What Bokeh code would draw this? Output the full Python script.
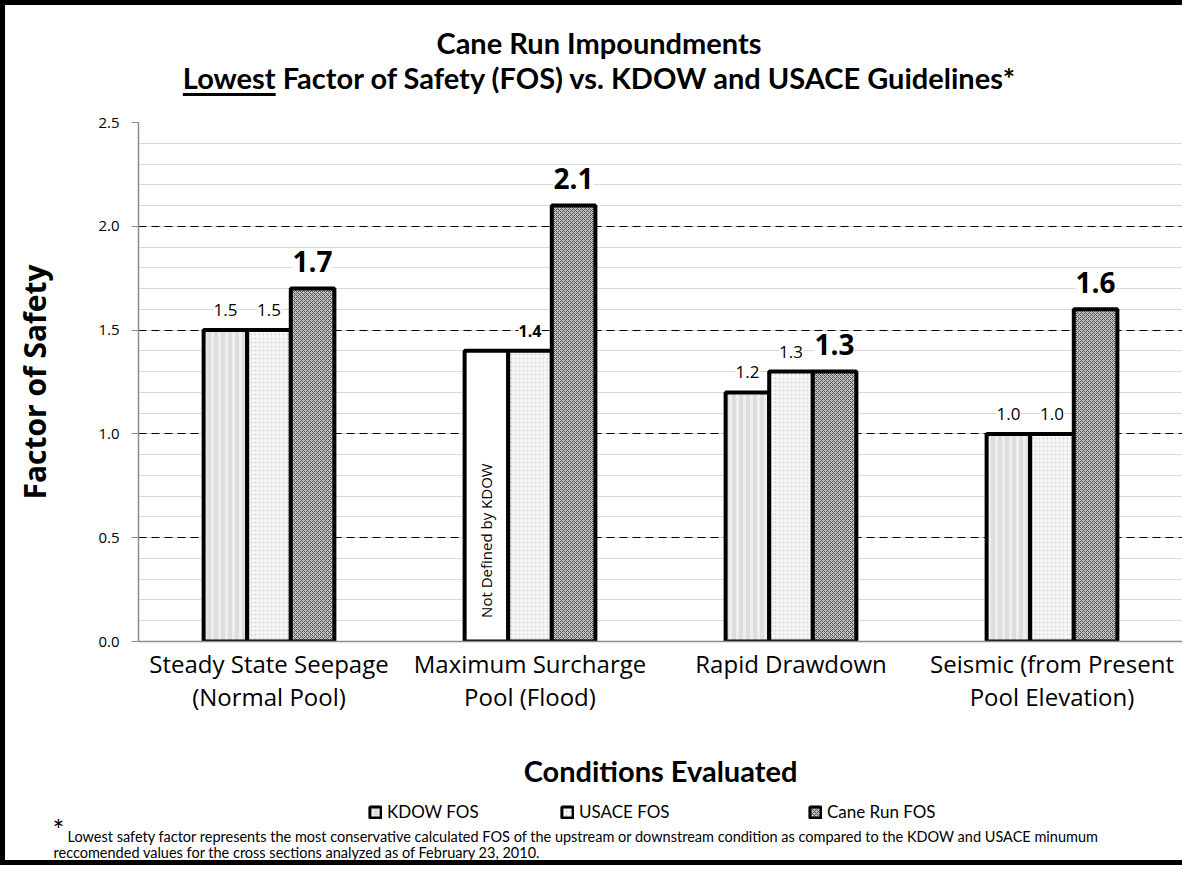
from math import pi
from bokeh.plotting import figure
from bokeh.layouts import column
from bokeh.models import (FactorRange, Range1d, ColumnDataSource, Label, Legend, LegendItem,
                          SingleIntervalTicker, PrintfTickFormatter, Div)
from bokeh.transform import dodge
from bokeh.embed import file_html
from bokeh.resources import INLINE

# ---------------- data ----------------
title_line1 = "Cane Run Impoundments"
title_line2_u = "Lowest"
title_line2 = "Factor of Safety (FOS) vs. KDOW and USACE Guidelines*"
categories = ["Steady State Seepage\n(Normal Pool)", "Maximum Surcharge\nPool (Flood)",
              "Rapid Drawdown", "Seismic (from Present\nPool Elevation)"]
kdow_fos = [1.5, 1.4, 1.2, 1.0]
kdow_defined = [True, False, True, True]
usace_fos = [1.5, 1.4, 1.3, 1.0]
canerun_fos = [1.7, 2.1, 1.3, 1.6]
series_names = ["KDOW FOS", "USACE FOS", "Cane Run FOS"]
y_ticks = [0.0, 0.5, 1.0, 1.5, 2.0, 2.5]
footnote_1 = ("Lowest safety factor represents the most conservative calculated FOS of the upstream "
              "or downstream condition as compared to the KDOW and USACE minumum")
footnote_2 = "reccomended values for the cross sections analyzed as of February 23, 2010."

# ---------------- layout ----------------
BORDER = 5
WI = 1182 - BORDER              # left border only on the sides
H_TOP, H_MAIN, H_BOT = 107, 678, 70

# ---- title ----
title_div = Div(
    text=(f"<div style=\"font-family:Lato;font-weight:bold;font-size:29px;line-height:35px;"
          f"text-align:center;color:black;padding:20px 0 0 11px;box-sizing:border-box;"
          f"width:{WI}px;white-space:nowrap;\">{title_line1}<br>"
          f"<span style=\"text-decoration:underline;text-decoration-thickness:3px;"
          f"text-underline-offset:4px;\">{title_line2_u}</span> {title_line2}</div>"),
    width=WI, height=H_TOP, margin=0)

# ---- main chart ----
p = figure(x_range=FactorRange(*categories, range_padding=0), y_range=Range1d(0, y_ticks[-1]),
           width=WI, height=H_MAIN, output_backend="svg", toolbar_location=None,
           min_border_left=133, min_border_right=0, min_border_top=10, min_border_bottom=149)
p.outline_line_color = None
p.frame_align = False

p.xgrid.grid_line_color = None
p.yaxis.ticker = SingleIntervalTicker(interval=0.5, num_minor_ticks=5)
p.ygrid.grid_line_color = "black"
p.ygrid.grid_line_dash = "8 5"
p.ygrid.grid_line_width = 1
p.ygrid.minor_grid_line_color = "#d9d9d9"
p.ygrid.minor_grid_line_width = 1

p.yaxis.formatter = PrintfTickFormatter(format="%.1f")
p.yaxis.axis_line_color = "#8c8c8c"
p.yaxis.axis_line_width = 1.5
p.yaxis.major_tick_line_color = "#8c8c8c"
p.yaxis.major_tick_out = 7
p.yaxis.major_tick_in = 0
p.yaxis.minor_tick_line_color = None
p.yaxis.major_label_standoff = 12
p.yaxis.major_label_text_font = "Open Sans"
p.yaxis.major_label_text_font_size = "15px"
p.yaxis.major_label_text_color = "black"
p.yaxis.axis_label = "Factor of Safety"
p.yaxis.axis_label_text_font = "Open Sans"
p.yaxis.axis_label_text_font_style = "bold"
p.yaxis.axis_label_text_font_size = "30px"
p.yaxis.axis_label_text_color = "black"
p.yaxis.axis_label_standoff = 40

p.xaxis.axis_line_color = "#8c8c8c"
p.xaxis.axis_line_width = 1.5
p.xaxis.major_tick_line_color = None
p.xaxis.major_tick_out = 0
p.xaxis.major_label_standoff = 5
p.xaxis.major_label_text_font = "Open Sans"
p.xaxis.major_label_text_font_size = "24px"
p.xaxis.major_label_text_line_height = 1.0
p.xaxis.major_label_text_color = "black"
p.xaxis.axis_label = "Conditions Evaluated"
p.xaxis.axis_label_text_font = "Lato"
p.xaxis.axis_label_text_font_style = "bold"
p.xaxis.axis_label_text_font_size = "29px"
p.xaxis.axis_label_text_color = "black"
p.xaxis.axis_label_standoff = 37

bw = 0.167
KDOW_STYLE = dict(fill_color="#dedede", hatch_pattern="vertical_line", hatch_color="#efefef",
                  hatch_scale=7, hatch_weight=3)
USACE_STYLE = dict(fill_color="#f6f6f6", hatch_pattern="dot", hatch_color="#d4d4d4",
                   hatch_scale=4, hatch_weight=1)
CANE_STYLE = dict(fill_color="#bcbcbc", hatch_pattern="diagonal_cross", hatch_color="#5a5a5a",
                  hatch_scale=4, hatch_weight=1)

src = ColumnDataSource(dict(
    cat=categories, kdow=kdow_fos, usace=usace_fos, cane=canerun_fos,
    kfill=[KDOW_STYLE["fill_color"] if d else "white" for d in kdow_defined],
    khatch=[KDOW_STYLE["hatch_pattern"] if d else " " for d in kdow_defined],
))
p.vbar(x=dodge("cat", -bw, range=p.x_range), top="kdow", width=bw, source=src,
       fill_color="kfill", hatch_pattern="khatch", hatch_color=KDOW_STYLE["hatch_color"],
       hatch_scale=KDOW_STYLE["hatch_scale"], hatch_weight=KDOW_STYLE["hatch_weight"],
       line_color="black", line_width=4)
p.vbar(x=dodge("cat", 0, range=p.x_range), top="usace", width=bw, source=src,
       line_color="black", line_width=4, **USACE_STYLE)
p.vbar(x=dodge("cat", bw, range=p.x_range), top="cane", width=bw, source=src,
       line_color="black", line_width=4, **CANE_STYLE)

lab = dict(text_align="center", text_baseline="middle", text_font="Open Sans", text_color="black",
           background_fill_color="white")
for i in range(len(categories)):
    xc = i + 0.5
    if kdow_defined[i]:
        p.add_layout(Label(x=xc - bw, y=kdow_fos[i], y_offset=20, text=f"{kdow_fos[i]:.1f}",
                           text_font_size="17px", **lab))
    else:
        p.add_layout(Label(x=xc - bw, y=0.486, text="Not Defined by KDOW", angle=pi / 2,
                           text_align="center", text_baseline="middle", text_font="Open Sans",
                           text_font_size="15px", text_color="black"))
    p.add_layout(Label(x=xc, y=usace_fos[i], y_offset=20, text=f"{usace_fos[i]:.1f}",
                       text_font_size="17px" if kdow_defined[i] else "16px",
                       text_font_style="normal" if kdow_defined[i] else "bold", **lab))
    p.add_layout(Label(x=xc + bw, y=canerun_fos[i], y_offset=27, text=f"{canerun_fos[i]:.1f}",
                       text_font_size="28px", text_font_style="bold", **lab))

# ---- legend + footnote (pixel coordinates of this strip) ----
pb = figure(x_range=Range1d(0, WI), y_range=Range1d(H_BOT, 0), width=WI, height=H_BOT,
            output_backend="svg", toolbar_location=None,
            min_border_left=0, min_border_right=0, min_border_top=0, min_border_bottom=0)
pb.axis.visible = False
pb.grid.grid_line_color = None
pb.outline_line_color = None
pb.frame_align = False

legend_x = [363, 555, 803]
nan = float("nan")
for name, style, vx in zip(series_names, [KDOW_STYLE, USACE_STYLE, CANE_STYLE], legend_x):
    # legend swatch source: a renderer with an undrawable (NaN) bar, used only for its style
    r = pb.vbar(x=[nan], top=[nan], width=1, line_color="black", line_width=3, **style)
    lg = Legend(items=[LegendItem(label=name, renderers=[r])], location=(vx, 38),
                orientation="horizontal", glyph_width=14, glyph_height=14, label_standoff=5,
                padding=0, margin=0, spacing=0, border_line_color=None, background_fill_alpha=0,
                label_text_font="Lato", label_text_font_size="17px", label_text_color="black",
                label_height=20)
    pb.add_layout(lg, "center")

pb.add_layout(Label(x=47, y=39, text="*", text_align="left", text_baseline="middle",
                    text_font="Lato", text_font_size="28px", text_color="black"))
pb.add_layout(Label(x=62, y=46, text=footnote_1, text_align="left", text_baseline="middle",
                    text_font="Lato", text_font_size="14.5px", text_color="black"))
pb.add_layout(Label(x=48, y=62, text=footnote_2, text_align="left", text_baseline="middle",
                    text_font="Lato", text_font_size="14.5px", text_color="black"))

layout = column(title_div, p, pb, spacing=0,
                styles={"border-left": f"{BORDER}px solid black",
                        "border-top": f"{BORDER}px solid black",
                        "border-bottom": f"{BORDER}px solid black",
                        "background-color": "white"})

open("out.html", "w").write(file_html(layout, INLINE))
